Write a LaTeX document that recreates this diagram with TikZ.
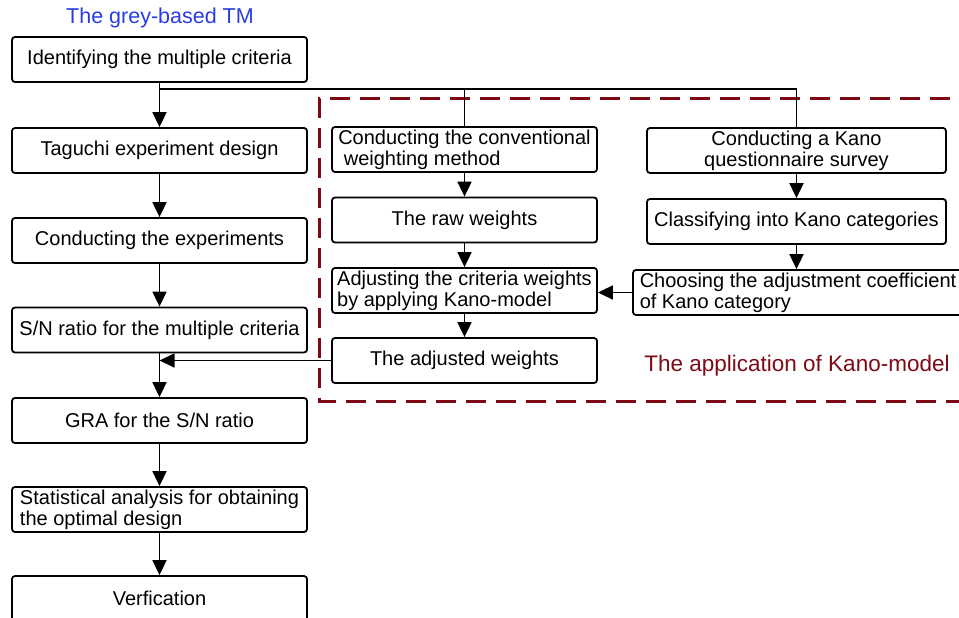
\documentclass[tikz,border=0pt]{standalone}
\usepackage{fontspec}
\setmainfont{Liberation Sans}
\usetikzlibrary{arrows.meta,positioning}

\definecolor{tmblue}{RGB}{40,60,230}
\definecolor{kanored}{RGB}{125,10,20}

\tikzset{
  stepbox/.style={rectangle, draw, rounded corners=3pt, line width=1.8pt,
    minimum width=295pt, minimum height=45pt, inner sep=2pt,
    font=\fontsize{20}{21}\selectfont, align=center},
  flow/.style={line width=1.8pt, -{Triangle[length=15pt,width=14pt]}},
  feed/.style={line width=1.4pt},
}

\begin{document}
\begin{tikzpicture}[x=1pt,y=-1pt]
    \clip (0,0) rectangle (959,618);

    % the grey-based TM (left column)
    \node[font=\fontsize{21.5}{23}\selectfont, text=tmblue] (greytitle) at (160,18) {The grey-based TM};
    \node[stepbox] (ident) at (159.5,59.5) {Identifying the multiple criteria};
    \node[stepbox] (taguchi) at (159.5,150.5) {Taguchi experiment design};
    \node[stepbox] (experim) at (159.5,240.5) {Conducting the experiments};
    \node[stepbox] (snratio) at (159.5,330) {S/N ratio for the multiple criteria};
    \node[stepbox] (gra) at (159.5,420.5) {GRA for the S/N ratio};
    \node[stepbox, align=left] (stats) at (159.5,509.5) {Statistical analysis for obtaining\\the optimal design};
    \node[stepbox] (verif) at (159.5,598.5) {Verfication};

    % the application of Kano-model (dashed frame)
    \draw[kanored, line width=3pt, dash pattern=on 20pt off 10pt] (980,99) -- (319,99) -- (319,401) -- (980,401);
    \node[font=\fontsize{22.5}{24}\selectfont, text=kanored] (kanotitle) at (797,366) {The application of Kano-model};

    \node[stepbox, minimum width=265pt, align=left] (conv) at (464.5,149.5) {Conducting the conventional\\\ weighting method};
    \node[stepbox, minimum width=265pt] (raw) at (464.5,220) {The raw weights};
    \node[stepbox, minimum width=265pt, align=left] (adjust) at (464.5,290.5) {Adjusting the criteria weights\\by applying Kano-model};
    \node[stepbox, minimum width=265pt] (adjusted) at (464.5,360.5) {The adjusted weights};

    \node[stepbox, minimum width=299pt] (survey) at (796.5,150.5) {Conducting a Kano\\questionnaire survey};
    \node[stepbox, minimum width=299pt] (classify) at (796.5,221.5) {Classifying into Kano categories};
    \node[stepbox, minimum width=330pt, align=left] (coeff) at (798,292.5) {Choosing the adjustment coefficient\\of Kano category};

    % connectors
    \coordinate (fork) at (159.5,89);
    \coordinate (merge) at (snratio.south |- adjusted.west);
    \draw[flow] (ident) -- (taguchi);
    \draw[flow] (taguchi) -- (experim);
    \draw[flow] (experim) -- (snratio);
    \draw[flow] (snratio) -- (gra);
    \draw[flow] (gra) -- (stats);
    \draw[flow] (stats) -- (verif);

    \draw[feed] (fork) -| (conv.north);
    \draw[feed] (fork) -| (survey.north);
    \draw[flow] (conv) -- (raw);
    \draw[flow] (raw) -- (adjust);
    \draw[flow] (adjust) -- (adjusted);
    \draw[flow] (survey) -- (classify);
    \draw[flow] (classify.south) -- (classify.south |- coeff.north);
    \draw[flow] (coeff.west) -- (adjust.east |- coeff.west);
    \draw[flow] (adjusted.west) -- (merge);
\end{tikzpicture}
\end{document}
